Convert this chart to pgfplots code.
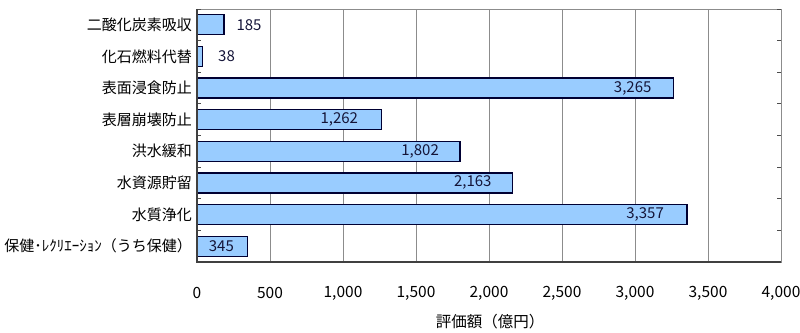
\documentclass[border=0pt]{standalone}
\usepackage{fontspec}
\setmainfont{Noto Sans CJK JP}
\usepackage{pgfplots}
\pgfplotsset{compat=1.18}
\usepackage{pgfplotstable}
\definecolor{barfill}{HTML}{99CCFF}
\definecolor{barline}{HTML}{000033}
\definecolor{vallab}{HTML}{141438}
\definecolor{gridc}{HTML}{8C8C8C}
\pgfplotstableread{
y x dx
0 185 25
1 38 24
2 3265 -41
3 1262 -42
4 1802 -40
5 2163 -40
6 3357 -42
7 345 -26
}\datatable
\begin{document}
\begin{tikzpicture}
\path[use as bounding box] (0bp,0bp) rectangle (800bp,333bp);
\begin{axis}[
  at={(197bp,71bp)}, anchor=south west,
  scale only axis, width=584bp, height=253bp,
  xmin=0, xmax=4000, ymin=-0.5, ymax=7.5, y dir=reverse,
  xbar, bar width=20bp,
  xtick={0,500,...,4000},
  ytick={0,...,7},
  yticklabels={二酸化炭素吸収,化石燃料代替,表面浸食防止,表層崩壊防止,洪水緩和,水資源貯留,水質浄化,保健･ﾚｸﾘｴｰｼｮﾝ（うち保健）},
  major tick length=0pt,
  xmajorgrids, grid style={gridc, line width=1bp},
  axis line style={gridc, line width=1bp},
  extra y ticks={-0.5,0.5,...,7.5},
  extra y tick labels={},
  extra y tick style={grid=none, major tick length=4bp, tick align=inside, tick style={black!70, line width=0.8bp}},
  /pgf/number format/1000 sep={,},
  /pgf/number format/assume math mode=true,
  xticklabel style={font=\fontsize{15.5bp}{17bp}\selectfont, anchor=center, yshift=-31bp},
  yticklabel style={font=\fontsize{15bp}{17bp}\selectfont, inner sep=0pt, xshift=-5bp},
  point meta=x,
  visualization depends on={\thisrow{dx} \as \dx},
  nodes near coords={\pgfmathprintnumber[1000 sep={,}, fixed, precision=0, assume math mode=true]{\pgfplotspointmeta}},
  every node near coord/.append style={anchor=center, xshift=\dx bp, font=\fontsize{15bp}{17bp}\selectfont, text=vallab},
]
\addplot[fill=barfill, draw=barline, line width=1.3bp] table[x=x, y=y] {\datatable};
\end{axis}
\draw[black!75, line width=1.2bp] (197bp,324bp) -- (197bp,71bp) -- (781bp,71bp);
\node[font=\fontsize{15.5bp}{17bp}\selectfont] at (490bp,11bp) {評価額（億円）};
\end{tikzpicture}
\end{document}
